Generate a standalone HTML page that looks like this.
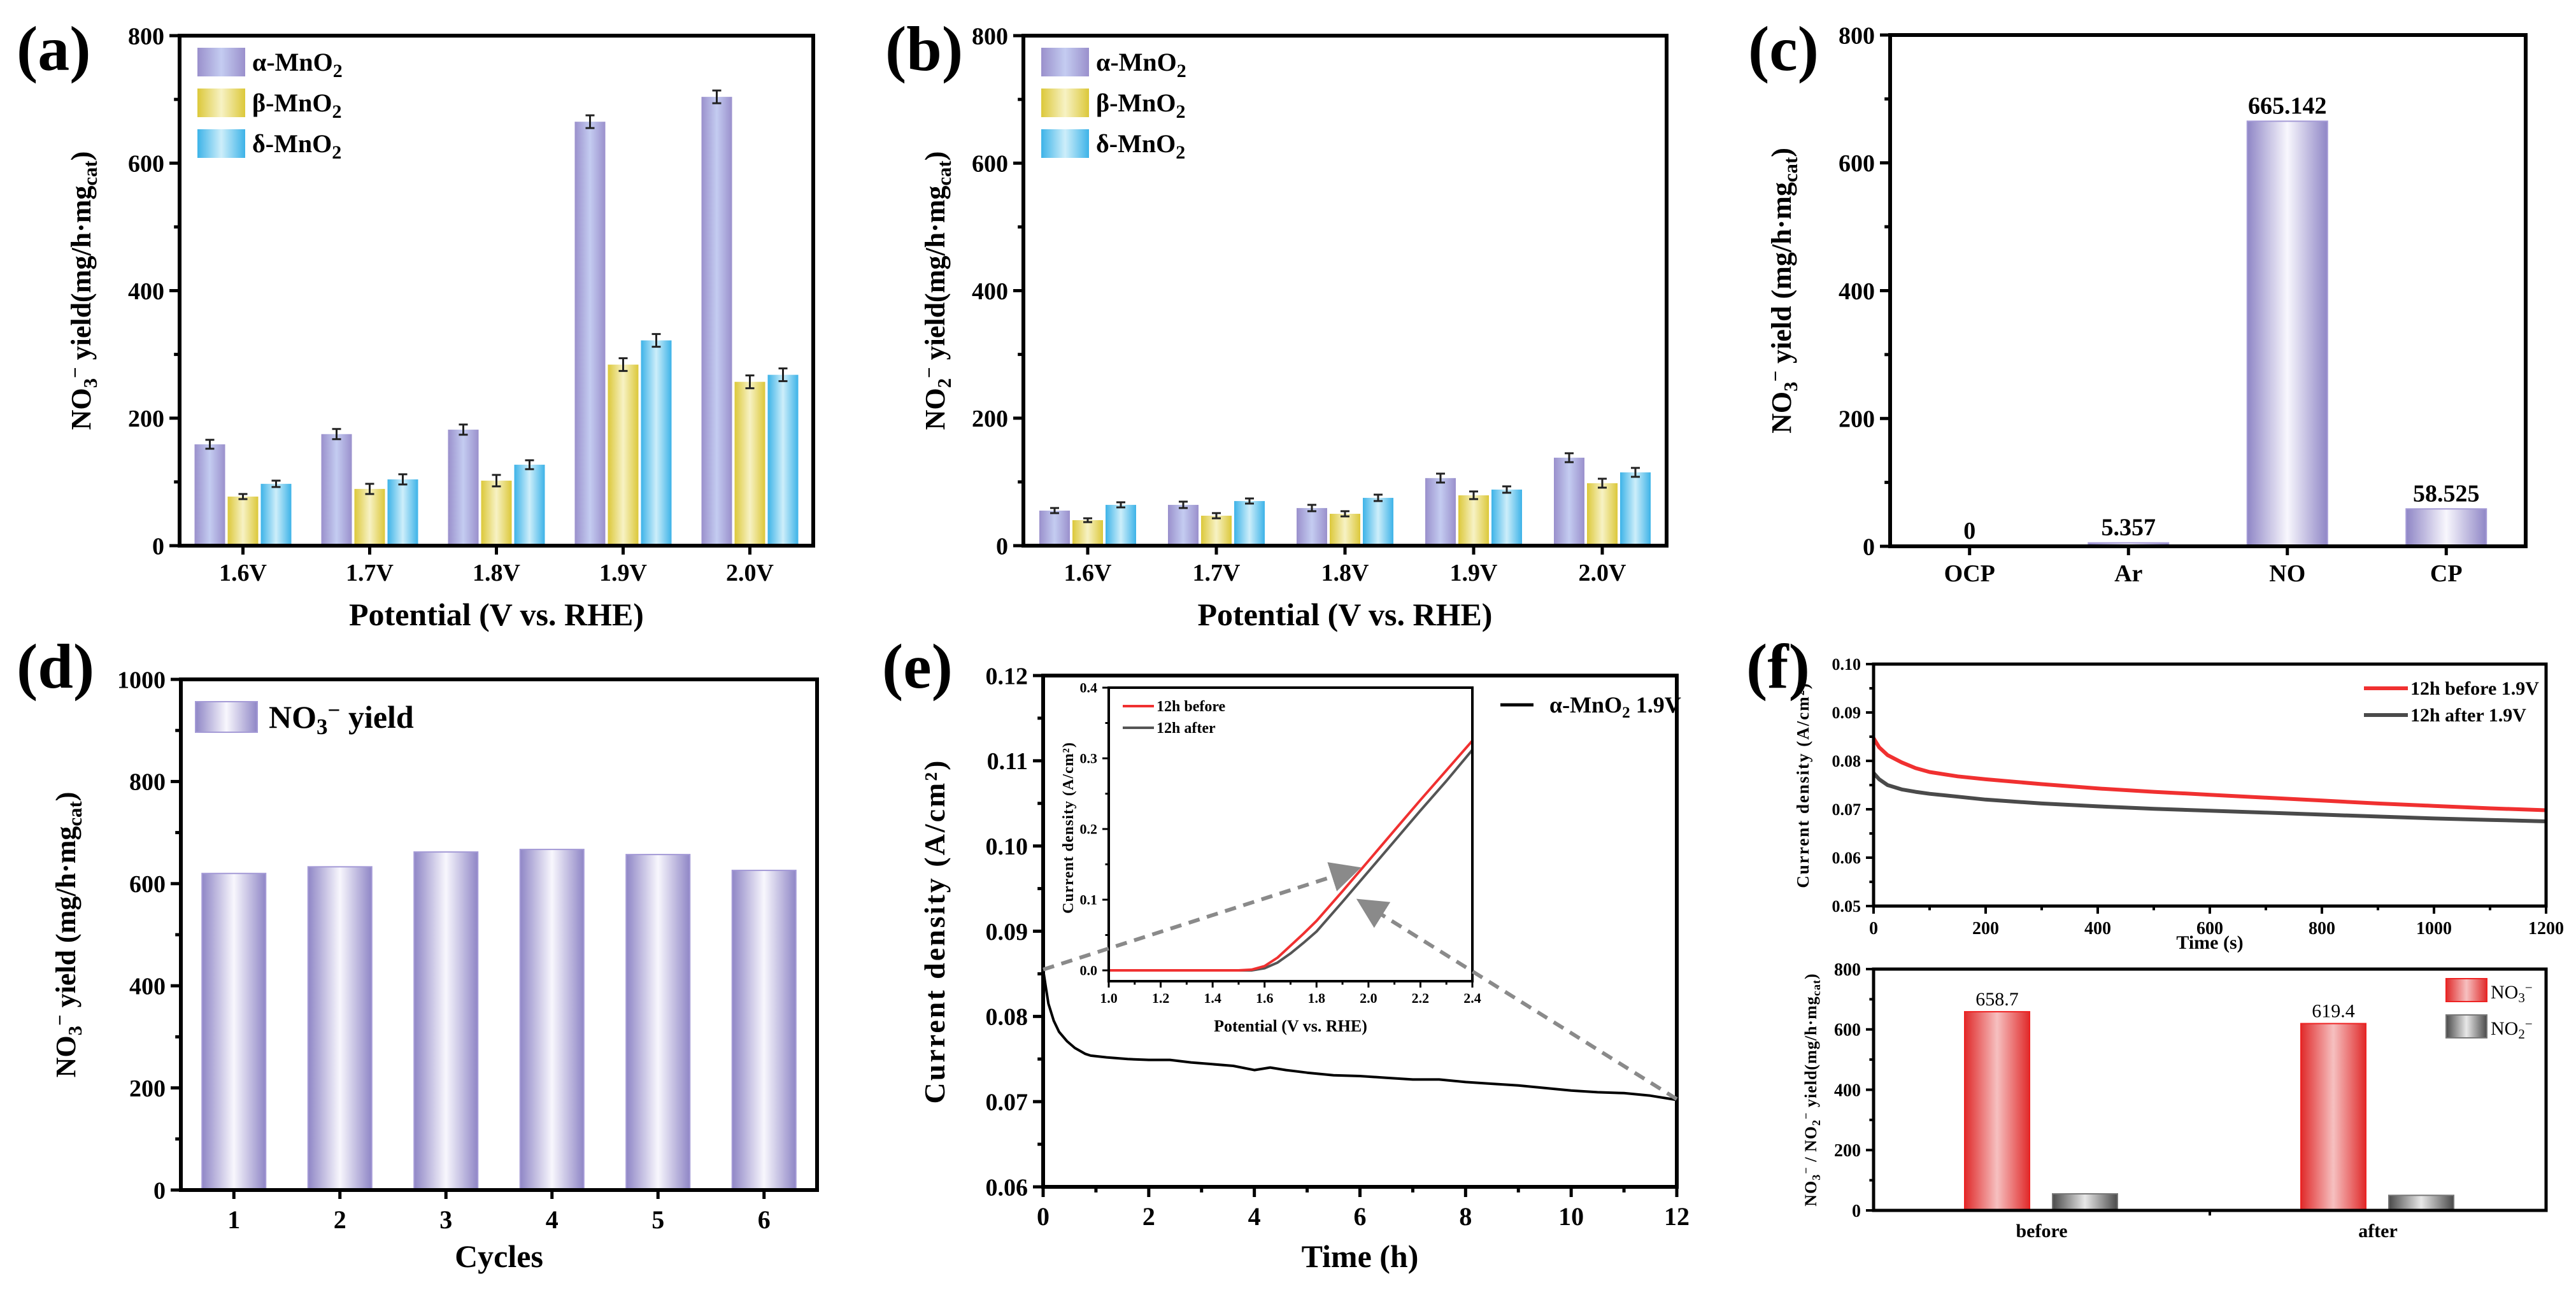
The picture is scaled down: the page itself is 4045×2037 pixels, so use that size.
<!DOCTYPE html>
<html><head><meta charset="utf-8">
<style>
html,body{margin:0;padding:0;background:#fff;}
svg{display:block;font-family:"Liberation Serif",serif;font-weight:bold;}
</style></head>
<body>
<svg id="fig" xmlns="http://www.w3.org/2000/svg" width="4045" height="2037" viewBox="0 0 4045 2037">
<defs>
<linearGradient id="gPurple" x1="0" x2="1" y1="0" y2="0"><stop offset="0" stop-color="#8f86c6"/><stop offset="0.5" stop-color="#f8f7fd"/><stop offset="1" stop-color="#8f86c6"/></linearGradient>
<linearGradient id="gAlpha" x1="0" x2="1" y1="0" y2="0"><stop offset="0" stop-color="#9a90cc"/><stop offset="0.5" stop-color="#c4ccf1"/><stop offset="1" stop-color="#9a90cc"/></linearGradient>
<linearGradient id="gBeta" x1="0" x2="1" y1="0" y2="0"><stop offset="0" stop-color="#dcc83a"/><stop offset="0.5" stop-color="#f7f2c4"/><stop offset="1" stop-color="#dcc83a"/></linearGradient>
<linearGradient id="gDelta" x1="0" x2="1" y1="0" y2="0"><stop offset="0" stop-color="#3db3e8"/><stop offset="0.5" stop-color="#cdeefa"/><stop offset="1" stop-color="#3db3e8"/></linearGradient>
<linearGradient id="gRed" x1="0" x2="1" y1="0" y2="0"><stop offset="0" stop-color="#e02a2a"/><stop offset="0.5" stop-color="#f6c0c0"/><stop offset="1" stop-color="#e02a2a"/></linearGradient>
<linearGradient id="gGray" x1="0" x2="1" y1="0" y2="0"><stop offset="0" stop-color="#4a4a4a"/><stop offset="0.5" stop-color="#e8e8e8"/><stop offset="1" stop-color="#4a4a4a"/></linearGradient>
<marker id="arrowHead" markerWidth="8" markerHeight="8" refX="6" refY="4" orient="auto" markerUnits="strokeWidth"><path d="M0,0 L8,4 L0,8 Z" fill="#8a8a8a"/></marker>
</defs>
<g id="root"></g>
</svg>
<script>
// ---------- data ----------
const potCats = ["1.6V","1.7V","1.8V","1.9V","2.0V"];
const aAlpha = [159,175,182,665,704];
const aBeta = [77,89,102,284,257];
const aDelta = [97,104,127,322,268];
const aAlphaErr = [7,8,8,10,10];
const aBetaErr = [4,8,9,10,10];
const aDeltaErr = [5,8,7,10,10];
const bAlpha = [55,64,59,106,138];
const bBeta = [40,47,50,79,98];
const bDelta = [64,70,75,88,115];
const bAlphaErr = [4,5,5,7,7];
const bBetaErr = [3,4,4,6,7];
const bDeltaErr = [4,4,5,5,7];
const cCats = ["OCP","Ar","NO","CP"];
const cVals = [0,5.357,665.142,58.525];
const cLabels = ["0","5.357","665.142","58.525"];
const dCats = ["1","2","3","4","5","6"];
const dVals = [620,633,662,667,657,626];
const eTime = [0,0.05,0.1,0.2,0.3,0.45,0.6,0.8,0.9,1.2,1.6,2.0,2.4,2.8,3.2,3.6,4.0,4.3,4.6,5.0,5.5,6.0,6.5,7.0,7.5,8.0,8.5,9.0,9.5,10.0,10.5,11.0,11.5,12.0];
const eCurr = [0.0855,0.0835,0.0815,0.0795,0.0782,0.0771,0.0763,0.0756,0.0754,0.0752,0.0750,0.0749,0.0749,0.0746,0.0744,0.0742,0.0737,0.0740,0.0737,0.0734,0.0731,0.0730,0.0728,0.0726,0.0726,0.0723,0.0721,0.0719,0.0716,0.0713,0.0711,0.0710,0.0707,0.0702];
const insetV = [1.0,1.2,1.4,1.5,1.55,1.6,1.65,1.7,1.75,1.8,1.9,2.0,2.1,2.2,2.3,2.4];
const insetBefore = [0,0,0,0,0.001,0.006,0.018,0.035,0.052,0.070,0.112,0.155,0.198,0.241,0.283,0.325];
const insetAfter = [0,0,0,0,0,0.003,0.011,0.024,0.039,0.055,0.097,0.140,0.183,0.226,0.268,0.312];
const fTime = [0,10,25,50,75,100,150,200,300,400,500,600,700,800,900,1000,1100,1200];
const fBefore = [0.0847,0.0828,0.0812,0.0797,0.0785,0.0777,0.0768,0.0762,0.0752,0.0743,0.0736,0.0730,0.0724,0.0718,0.0712,0.0707,0.0702,0.0698];
const fAfter = [0.0775,0.0762,0.0750,0.0741,0.0736,0.0732,0.0726,0.0720,0.0712,0.0706,0.0701,0.0697,0.0693,0.0689,0.0685,0.0681,0.0678,0.0675];
const gCats = ["before","after"];
const gNO3 = [658.7,619.4];
const gNO2 = [55,50];

// ---------- helpers ----------
const NS = "http://www.w3.org/2000/svg";
const root = document.getElementById("root");
function mk(tag, attrs, parent, name, inter) {
  const el = document.createElementNS(NS, tag);
  for (const k in attrs) el.setAttribute(k, attrs[k]);
  
  
  (parent || root).appendChild(el);
  return el;
}
function txt(x, y, html, size, name, opts) {
  opts = opts || {};
  const t = mk("text", {x:x, y:y, "font-size":size, "text-anchor":opts.anchor||"middle", fill:opts.fill||"#000"}, opts.parent, name, false);
  if (opts.rot) t.setAttribute("transform", "rotate(" + opts.rot + " " + x + " " + y + ")");
  if (opts.ls) t.setAttribute("letter-spacing", opts.ls);
  if (opts.weight) t.setAttribute("font-weight", opts.weight);
  t.innerHTML = html;
  return t;
}
function lin(d0, d1, r0, r1) { return v => r0 + (v - d0) * (r1 - r0) / (d1 - d0); }

function frame(g, x0, x1, yb, yt, sw, name) {
  mk("rect", {x:x0, y:yt, width:x1-x0, height:yb-yt, fill:"none", stroke:"#000", "stroke-width":sw}, g, name, false);
}
function yTicks(g, x0, ys, vmin, vmax, step, minor, fmt, fs, tl, sw) {
  for (let v = vmin; v <= vmax + 1e-9; v += minor) {
    const isMaj = Math.abs(Math.round((v - vmin) / step) * step - (v - vmin)) < 1e-9;
    const y = ys(v);
    mk("line", {x1:x0, x2:x0 - (isMaj ? tl : tl*0.55), y1:y, y2:y, stroke:"#000", "stroke-width":sw}, g, isMaj ? "y-tick-major" : "y-tick-minor", false);
    if (isMaj) txt(x0 - tl - 8, y + fs*0.35, fmt(v), fs, "y-tick-label", {anchor:"end", parent:g});
  }
}
function xTicksNum(g, yb, xs, vmin, vmax, step, minor, fmt, fs, tl, sw, labOff) {
  for (let v = vmin; v <= vmax + 1e-9; v += minor) {
    const isMaj = Math.abs(Math.round((v - vmin) / step) * step - (v - vmin)) < 1e-9;
    const x = xs(v);
    mk("line", {x1:x, x2:x, y1:yb, y2:yb + (isMaj ? tl : tl*0.55), stroke:"#000", "stroke-width":sw}, g, isMaj ? "x-tick-major" : "x-tick-minor", false);
    if (isMaj) txt(x, yb + labOff, fmt(v), fs, "x-tick-label", {parent:g});
  }
}
function bar(g, cx, w, ys, v, fill, stroke, name) {
  const y = ys(v), y0 = ys(0);
  return mk("rect", {x:cx - w/2, y:y, width:w, height:Math.max(0, y0 - y), fill:fill, stroke:stroke, "stroke-width":2}, g, name, false);
}
function errbar(g, cx, ys, v, e, name) {
  mk("path", {d:"M"+(cx-7)+","+ys(v+e)+"H"+(cx+7)+"M"+cx+","+ys(v+e)+"V"+ys(v-e)+"M"+(cx-7)+","+ys(v-e)+"H"+(cx+7), stroke:"#222", "stroke-width":3, fill:"none"}, g, name, false);
}
function polyline(g, xs, ys, X, Y, color, w, name) {
  let d = "";
  for (let i = 0; i < X.length; i++) d += (i ? "L" : "M") + xs(X[i]).toFixed(1) + "," + ys(Y[i]).toFixed(1);
  return mk("path", {d:d, fill:"none", stroke:color, "stroke-width":w, "stroke-linejoin":"round"}, g, name, false);
}
const SUB2 = '<tspan dy="10" font-size="0.75em">2</tspan>';

// ---------- grouped bar panels (a), (b) ----------
function groupPanel(id, x0, x1, yb, yt, A, B, D, Ae, Be, De, ytitle, labelX, tx) {
  const g = mk("g", {}, root, "panel-" + id, false);
  const xs = lin(0.5, 5.5, x0, x1), ys = lin(0, 800, yb, yt);
  const w = 48, off = 52;
  for (let i = 0; i < potCats.length; i++) {
    const c = xs(i + 1);
    bar(g, c - off, w, ys, A[i], "url(#gAlpha)", "none", "bar-alpha-" + potCats[i]);
    bar(g, c, w, ys, B[i], "url(#gBeta)", "none", "bar-beta-" + potCats[i]);
    bar(g, c + off, w, ys, D[i], "url(#gDelta)", "none", "bar-delta-" + potCats[i]);
    errbar(g, c - off, ys, A[i], Ae[i], "error-bar");
    errbar(g, c, ys, B[i], Be[i], "error-bar");
    errbar(g, c + off, ys, D[i], De[i], "error-bar");
    mk("line", {x1:c, x2:c, y1:yb, y2:yb+14, stroke:"#000", "stroke-width":5}, g, "x-tick", false);
    txt(c, yb + 55, potCats[i], 38, "x-tick-label", {parent:g});
  }
  frame(g, x0, x1, yb, yt, 6, "plot-frame");
  yTicks(g, x0, ys, 0, 800, 200, 100, v => v, 38, 16, 5);
  txt((x0 + x1)/2, yb + 125, "Potential (V vs. RHE)", 50, "x-axis-title", {parent:g});
  txt(tx, (yb + yt)/2, ytitle, 44, "y-axis-title", {rot:-90, parent:g});
  txt(labelX, 110, "(" + id + ")", 100, "panel-label", {anchor:"start", parent:g});
  const leg = [["url(#gAlpha)","α-MnO"],["url(#gBeta)","β-MnO"],["url(#gDelta)","δ-MnO"]];
  for (let k = 0; k < 3; k++) {
    const ly = 75 + k * 64;
    mk("rect", {x:x0 + 28, y:ly, width:75, height:45, fill:leg[k][0]}, g, "legend-swatch", false);
    txt(x0 + 114, ly + 36, leg[k][1] + SUB2, 40, "legend-entry", {anchor:"start", parent:g});
  }
}
groupPanel("a", 282, 1277, 857, 56, aAlpha, aBeta, aDelta, aAlphaErr, aBetaErr, aDeltaErr,
  'NO<tspan dy="10" font-size="0.7em">3</tspan><tspan dy="-24" font-size="0.7em">−</tspan><tspan dy="14"> yield(mg/h·mg</tspan><tspan dy="10" font-size="0.7em">cat</tspan><tspan dy="-10">)</tspan>', 26, 142);
groupPanel("b", 1607, 2617, 857, 56, bAlpha, bBeta, bDelta, bAlphaErr, bBetaErr, bDeltaErr,
  'NO<tspan dy="10" font-size="0.7em">2</tspan><tspan dy="-24" font-size="0.7em">−</tspan><tspan dy="14"> yield(mg/h·mg</tspan><tspan dy="10" font-size="0.7em">cat</tspan><tspan dy="-10">)</tspan>', 1390, 1483);

// ---------- (c) ----------
(function(){
  const g = mk("g", {}, root, "panel-c", false);
  const x0 = 2968, x1 = 3966, yb = 858, yt = 55;
  const xs = lin(0.5, 4.5, x0, x1), ys = lin(0, 800, yb, yt);
  for (let i = 0; i < cCats.length; i++) {
    const c = xs(i + 1);
    if (cVals[i] > 0) bar(g, c, 126, ys, cVals[i], "url(#gPurple)", "#a49ad6", "bar-" + cCats[i]);
    txt(c, ys(cVals[i]) - 12, cLabels[i], 38, "value-label", {parent:g});
    mk("line", {x1:c, x2:c, y1:yb, y2:yb+14, stroke:"#000", "stroke-width":5}, g, "x-tick", false);
    txt(c, yb + 55, cCats[i], 38, "x-tick-label", {parent:g});
  }
  frame(g, x0, x1, yb, yt, 6, "plot-frame");
  yTicks(g, x0, ys, 0, 800, 200, 100, v => v, 38, 16, 5);
  txt(2812, (yb + yt)/2, 'NO<tspan dy="10" font-size="0.7em">3</tspan><tspan dy="-24" font-size="0.7em">−</tspan><tspan dy="14">  yield (mg/h·mg</tspan><tspan dy="10" font-size="0.7em">cat</tspan><tspan dy="-10">)</tspan>', 44, "y-axis-title", {rot:-90, parent:g});
  txt(2745, 110, "(c)", 100, "panel-label", {anchor:"start", parent:g});
})();

// ---------- (d) ----------
(function(){
  const g = mk("g", {}, root, "panel-d", false);
  const x0 = 284, x1 = 1283, yb = 1869, yt = 1067;
  const xs = lin(0.5, 6.5, x0, x1), ys = lin(0, 1000, yb, yt);
  for (let i = 0; i < dCats.length; i++) {
    const c = xs(i + 1);
    bar(g, c, 100, ys, dVals[i], "url(#gPurple)", "#a49ad6", "bar-cycle-" + dCats[i]);
    mk("line", {x1:c, x2:c, y1:yb, y2:yb+14, stroke:"#000", "stroke-width":5}, g, "x-tick", false);
    txt(c, yb + 60, dCats[i], 40, "x-tick-label", {parent:g});
  }
  frame(g, x0, x1, yb, yt, 6, "plot-frame");
  yTicks(g, x0, ys, 0, 1000, 200, 100, v => v, 38, 16, 5);
  txt((x0 + x1)/2, 1990, "Cycles", 50, "x-axis-title", {parent:g});
  txt(118, (yb + yt)/2, 'NO<tspan dy="10" font-size="0.7em">3</tspan><tspan dy="-24" font-size="0.7em">−</tspan><tspan dy="14"> yield (mg/h·mg</tspan><tspan dy="10" font-size="0.7em">cat</tspan><tspan dy="-10">)</tspan>', 44, "y-axis-title", {rot:-90, parent:g});
  txt(26, 1080, "(d)", 100, "panel-label", {anchor:"start", parent:g});
  mk("rect", {x:307, y:1102, width:97, height:48, fill:"url(#gPurple)", stroke:"#a49ad6", "stroke-width":2}, g, "legend-swatch", false);
  txt(422, 1143, 'NO<tspan dy="10" font-size="0.7em">3</tspan><tspan dy="-26" font-size="0.7em">−</tspan><tspan dy="16"> yield</tspan>', 50, "legend-entry", {anchor:"start", parent:g});
})();

// ---------- (e) ----------
(function(){
  const g = mk("g", {}, root, "panel-e", false);
  const x0 = 1638, x1 = 2633, yb = 1864, yt = 1061;
  const xs = lin(0, 12, x0, x1), ys = lin(0.06, 0.12, yb, yt);
  frame(g, x0, x1, yb, yt, 6, "plot-frame");
  yTicks(g, x0, ys, 0.06, 0.12, 0.01, 0.005, v => v.toFixed(2), 38, 16, 5);
  xTicksNum(g, yb, xs, 0, 12, 2, 1, v => Math.round(v), 40, 16, 5, 60);
  polyline(g, xs, ys, eTime, eCurr, "#000", 4, "current-trace");
  txt((x0 + x1)/2, 1990, "Time (h)", 50, "x-axis-title", {parent:g});
  txt(1483, (yb + yt)/2, "Current density (A/cm²)", 46, "y-axis-title", {rot:-90, ls:3, parent:g});
  txt(1385, 1080, "(e)", 100, "panel-label", {anchor:"start", parent:g});
  mk("line", {x1:2356, x2:2408, y1:1107, y2:1107, stroke:"#000", "stroke-width":5}, g, "legend-line", false);
  txt(2433, 1119, 'α-MnO' + '<tspan dy="8" font-size="0.7em">2</tspan><tspan dy="-8"> 1.9V</tspan>', 36, "legend-entry", {anchor:"start", parent:g});
  // inset
  const ig = mk("g", {}, g, "inset-lsv", false);
  const ix0 = 1741, ix1 = 2312, iyb = 1541, iyt = 1080;
  mk("rect", {x:ix0, y:iyt, width:ix1-ix0, height:iyb-iyt, fill:"#fff"}, ig, "inset-bg", false);
  const ixs = lin(1.0, 2.4, ix0, ix1), iys = lin(0, 0.4, 1524, iyt);
  polyline(ig, ixs, iys, insetV, insetAfter, "#555", 4, "inset-after-line");
  polyline(ig, ixs, iys, insetV, insetBefore, "#f03030", 4, "inset-before-line");
  frame(ig, ix0, ix1, iyb, iyt, 4, "inset-frame");
  yTicks(ig, ix0, iys, 0, 0.4, 0.1, 0.05, v => v.toFixed(1), 22, 10, 3);
  xTicksNum(ig, iyb, ixs, 1.0, 2.4, 0.2, 0.1, v => v.toFixed(1), 22, 10, 3, 34);
  txt((ix0 + ix1)/2, 1620, "Potential (V vs. RHE)", 26, "inset-x-title", {parent:ig});
  txt(1685, 1300, "Current density (A/cm²)", 24, "inset-y-title", {rot:-90, ls:1, parent:ig});
  mk("line", {x1:1763, x2:1812, y1:1109, y2:1109, stroke:"#f03030", "stroke-width":4}, ig, "inset-legend-line", false);
  txt(1816, 1117, "12h before", 24, "inset-legend-entry", {anchor:"start", parent:ig});
  mk("line", {x1:1763, x2:1812, y1:1143, y2:1143, stroke:"#555", "stroke-width":4}, ig, "inset-legend-line", false);
  txt(1816, 1151, "12h after", 24, "inset-legend-entry", {anchor:"start", parent:ig});
  // zoom arrows (drawn over inset)
  mk("line", {x1:xs(0), y1:ys(0.0855), x2:2126, y2:1366, stroke:"#8a8a8a", "stroke-width":6, "stroke-dasharray":"18 12", "marker-end":"url(#arrowHead)"}, g, "zoom-arrow", false);
  mk("line", {x1:xs(12), y1:ys(0.0703), x2:2140, y2:1418, stroke:"#8a8a8a", "stroke-width":6, "stroke-dasharray":"18 12", "marker-end":"url(#arrowHead)"}, g, "zoom-arrow", false);
})();

// ---------- (f) top ----------
(function(){
  const g = mk("g", {}, root, "panel-f-top", false);
  const x0 = 2942, x1 = 3998, yb = 1423, yt = 1043;
  const xs = lin(0, 1200, x0, x1), ys = lin(0.05, 0.10, yb, yt);
  polyline(g, xs, ys, fTime, fAfter, "#4a4a4a", 6, "after-trace");
  polyline(g, xs, ys, fTime, fBefore, "#f03030", 6, "before-trace");
  frame(g, x0, x1, yb, yt, 5, "plot-frame");
  yTicks(g, x0, ys, 0.05, 0.10, 0.01, 0.005, v => v.toFixed(2), 26, 12, 4);
  xTicksNum(g, yb, xs, 0, 1200, 200, 100, v => Math.round(v), 28, 12, 4, 44);
  txt((x0 + x1)/2, 1490, "Time (s)", 30, "x-axis-title", {parent:g});
  txt(2840, (yb + yt)/2, "Current density (A/cm²)", 27, "y-axis-title", {rot:-90, ls:2, parent:g});
  txt(2742, 1080, "(f)", 100, "panel-label", {anchor:"start", parent:g});
  mk("line", {x1:3712, x2:3781, y1:1081, y2:1081, stroke:"#f03030", "stroke-width":6}, g, "legend-line", false);
  txt(3785, 1091, "12h before 1.9V", 30, "legend-entry", {anchor:"start", parent:g});
  mk("line", {x1:3712, x2:3781, y1:1123, y2:1123, stroke:"#4a4a4a", "stroke-width":6}, g, "legend-line", false);
  txt(3785, 1133, "12h after 1.9V", 30, "legend-entry", {anchor:"start", parent:g});
})();

// ---------- (f) bottom ----------
(function(){
  const g = mk("g", {}, root, "panel-f-bottom", false);
  const x0 = 2942, x1 = 3998, yb = 1901, yt = 1522;
  const xs = lin(0.5, 2.5, x0, x1), ys = lin(0, 800, yb, yt);
  for (let i = 0; i < gCats.length; i++) {
    const c = xs(i + 1);
    bar(g, c - 70, 102, ys, gNO3[i], "url(#gRed)", "#ee2222", "bar-no3-" + gCats[i]);
    bar(g, c + 68, 102, ys, gNO2[i], "url(#gGray)", "#777", "bar-no2-" + gCats[i]);
    txt(c - 70, ys(gNO3[i]) - 10, gNO3[i].toFixed(1), 30, "value-label", {parent:g, weight:"normal"});
    txt(c, yb + 42, gCats[i], 30, "x-tick-label", {parent:g});
  }
  mk("line", {x1:(x0+x1)/2, x2:(x0+x1)/2, y1:yb, y2:yb+8, stroke:"#000", "stroke-width":4}, g, "x-tick", false);
  frame(g, x0, x1, yb, yt, 5, "plot-frame");
  yTicks(g, x0, ys, 0, 800, 200, 100, v => v, 28, 12, 4);
  txt(2852, (yb + yt)/2, 'NO<tspan dy="6" font-size="0.7em">3</tspan><tspan dy="-16" font-size="0.7em">−</tspan><tspan dy="10"> / NO</tspan><tspan dy="6" font-size="0.7em">2</tspan><tspan dy="-16" font-size="0.7em">−</tspan><tspan dy="10"> yield(mg/h·mg</tspan><tspan dy="6" font-size="0.7em">cat</tspan><tspan dy="-6">)</tspan>', 26, "y-axis-title", {rot:-90, ls:1, parent:g});
  mk("rect", {x:3841, y:1537, width:64, height:36, fill:"url(#gRed)", stroke:"#ee2222", "stroke-width":2}, g, "legend-swatch", false);
  txt(3911, 1568, 'NO<tspan dy="6" font-size="0.7em">3</tspan><tspan dy="-16" font-size="0.7em">−</tspan>', 30, "legend-entry", {anchor:"start", parent:g, weight:"normal"});
  mk("rect", {x:3841, y:1594, width:64, height:36, fill:"url(#gGray)", stroke:"#777", "stroke-width":2}, g, "legend-swatch", false);
  txt(3911, 1625, 'NO<tspan dy="6" font-size="0.7em">2</tspan><tspan dy="-16" font-size="0.7em">−</tspan>', 30, "legend-entry", {anchor:"start", parent:g, weight:"normal"});
})();
</script>
</body></html>
